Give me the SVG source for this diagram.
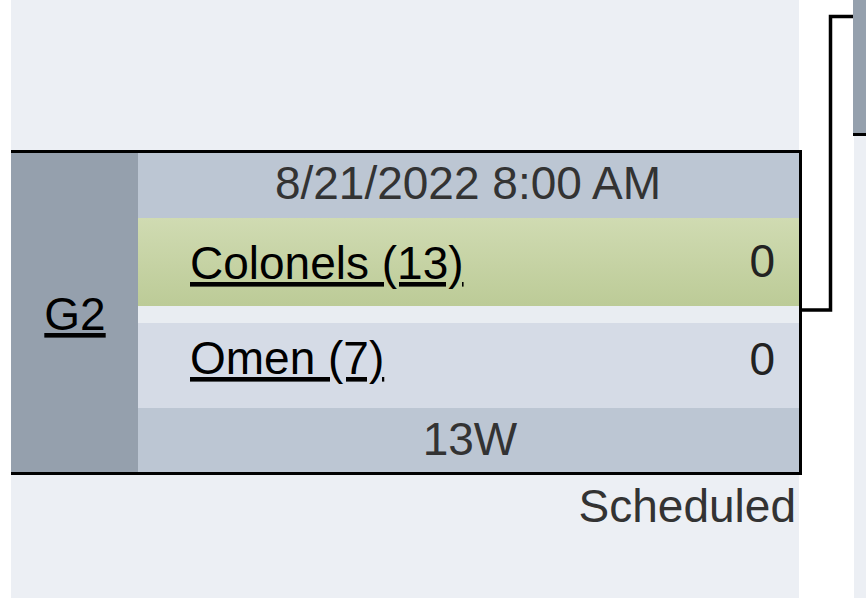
<svg xmlns="http://www.w3.org/2000/svg" width="866" height="598" viewBox="0 0 866 598">
<defs>
<linearGradient id="win" x1="0" y1="0" x2="0" y2="1">
<stop offset="0" stop-color="#d0dbb2"/>
<stop offset="1" stop-color="#bccb97"/>
</linearGradient>
<style>
text{font-family:"Liberation Sans",Arial,Helvetica,sans-serif;font-size:46px}
.col{fill:#eceff4}
.side{fill:#95a0ad}
.hdr{fill:#bcc6d3}
.team{fill:#000;text-decoration:underline}
.score{fill:#222;text-anchor:end}
.info{fill:#333;text-anchor:middle}
.edge{fill:none;stroke:#000;stroke-width:3.5}
</style>
</defs>
<rect width="866" height="598" fill="#fff"/>
<rect class="col" x="11" y="0" width="788" height="598"/>
<rect class="col" x="854" y="0" width="12" height="598"/>
<g id="connectors">
<polyline class="edge" points="801,310 830.5,310 830.5,16.5 854,16.5"/>
</g>
<g id="node-next">
<rect class="side" x="853" y="0" width="13" height="134"/>
<line x1="853" y1="134.5" x2="866" y2="134.5" stroke="#000" stroke-width="3"/>
</g>
<g id="node-g2">
<rect class="side" x="11" y="151" width="127" height="322"/>
<rect class="hdr" x="138" y="151" width="662" height="67"/>
<rect fill="url(#win)" x="138" y="218" width="662" height="88"/>
<rect fill="#e9edf2" x="138" y="306" width="662" height="17"/>
<rect fill="#d5dbe6" x="138" y="323" width="662" height="85"/>
<rect class="hdr" x="138" y="408" width="662" height="65"/>
<polyline points="11,151.5 800.5,151.5 800.5,473.5 11,473.5" fill="none" stroke="#000" stroke-width="3"/>
<text class="team" x="75" y="330" text-anchor="middle">G2</text>
<text class="info" x="468" y="199">8/21/2022 8:00 AM</text>
<text class="team" x="190" y="279">Colonels (13)</text>
<text class="score" x="775" y="277">0</text>
<text class="team" x="190" y="374">Omen (7)</text>
<text class="score" x="775" y="375">0</text>
<text class="info" x="470" y="455">13W</text>
<text x="796" y="522" fill="#333" text-anchor="end">Scheduled</text>
</g>
</svg>
